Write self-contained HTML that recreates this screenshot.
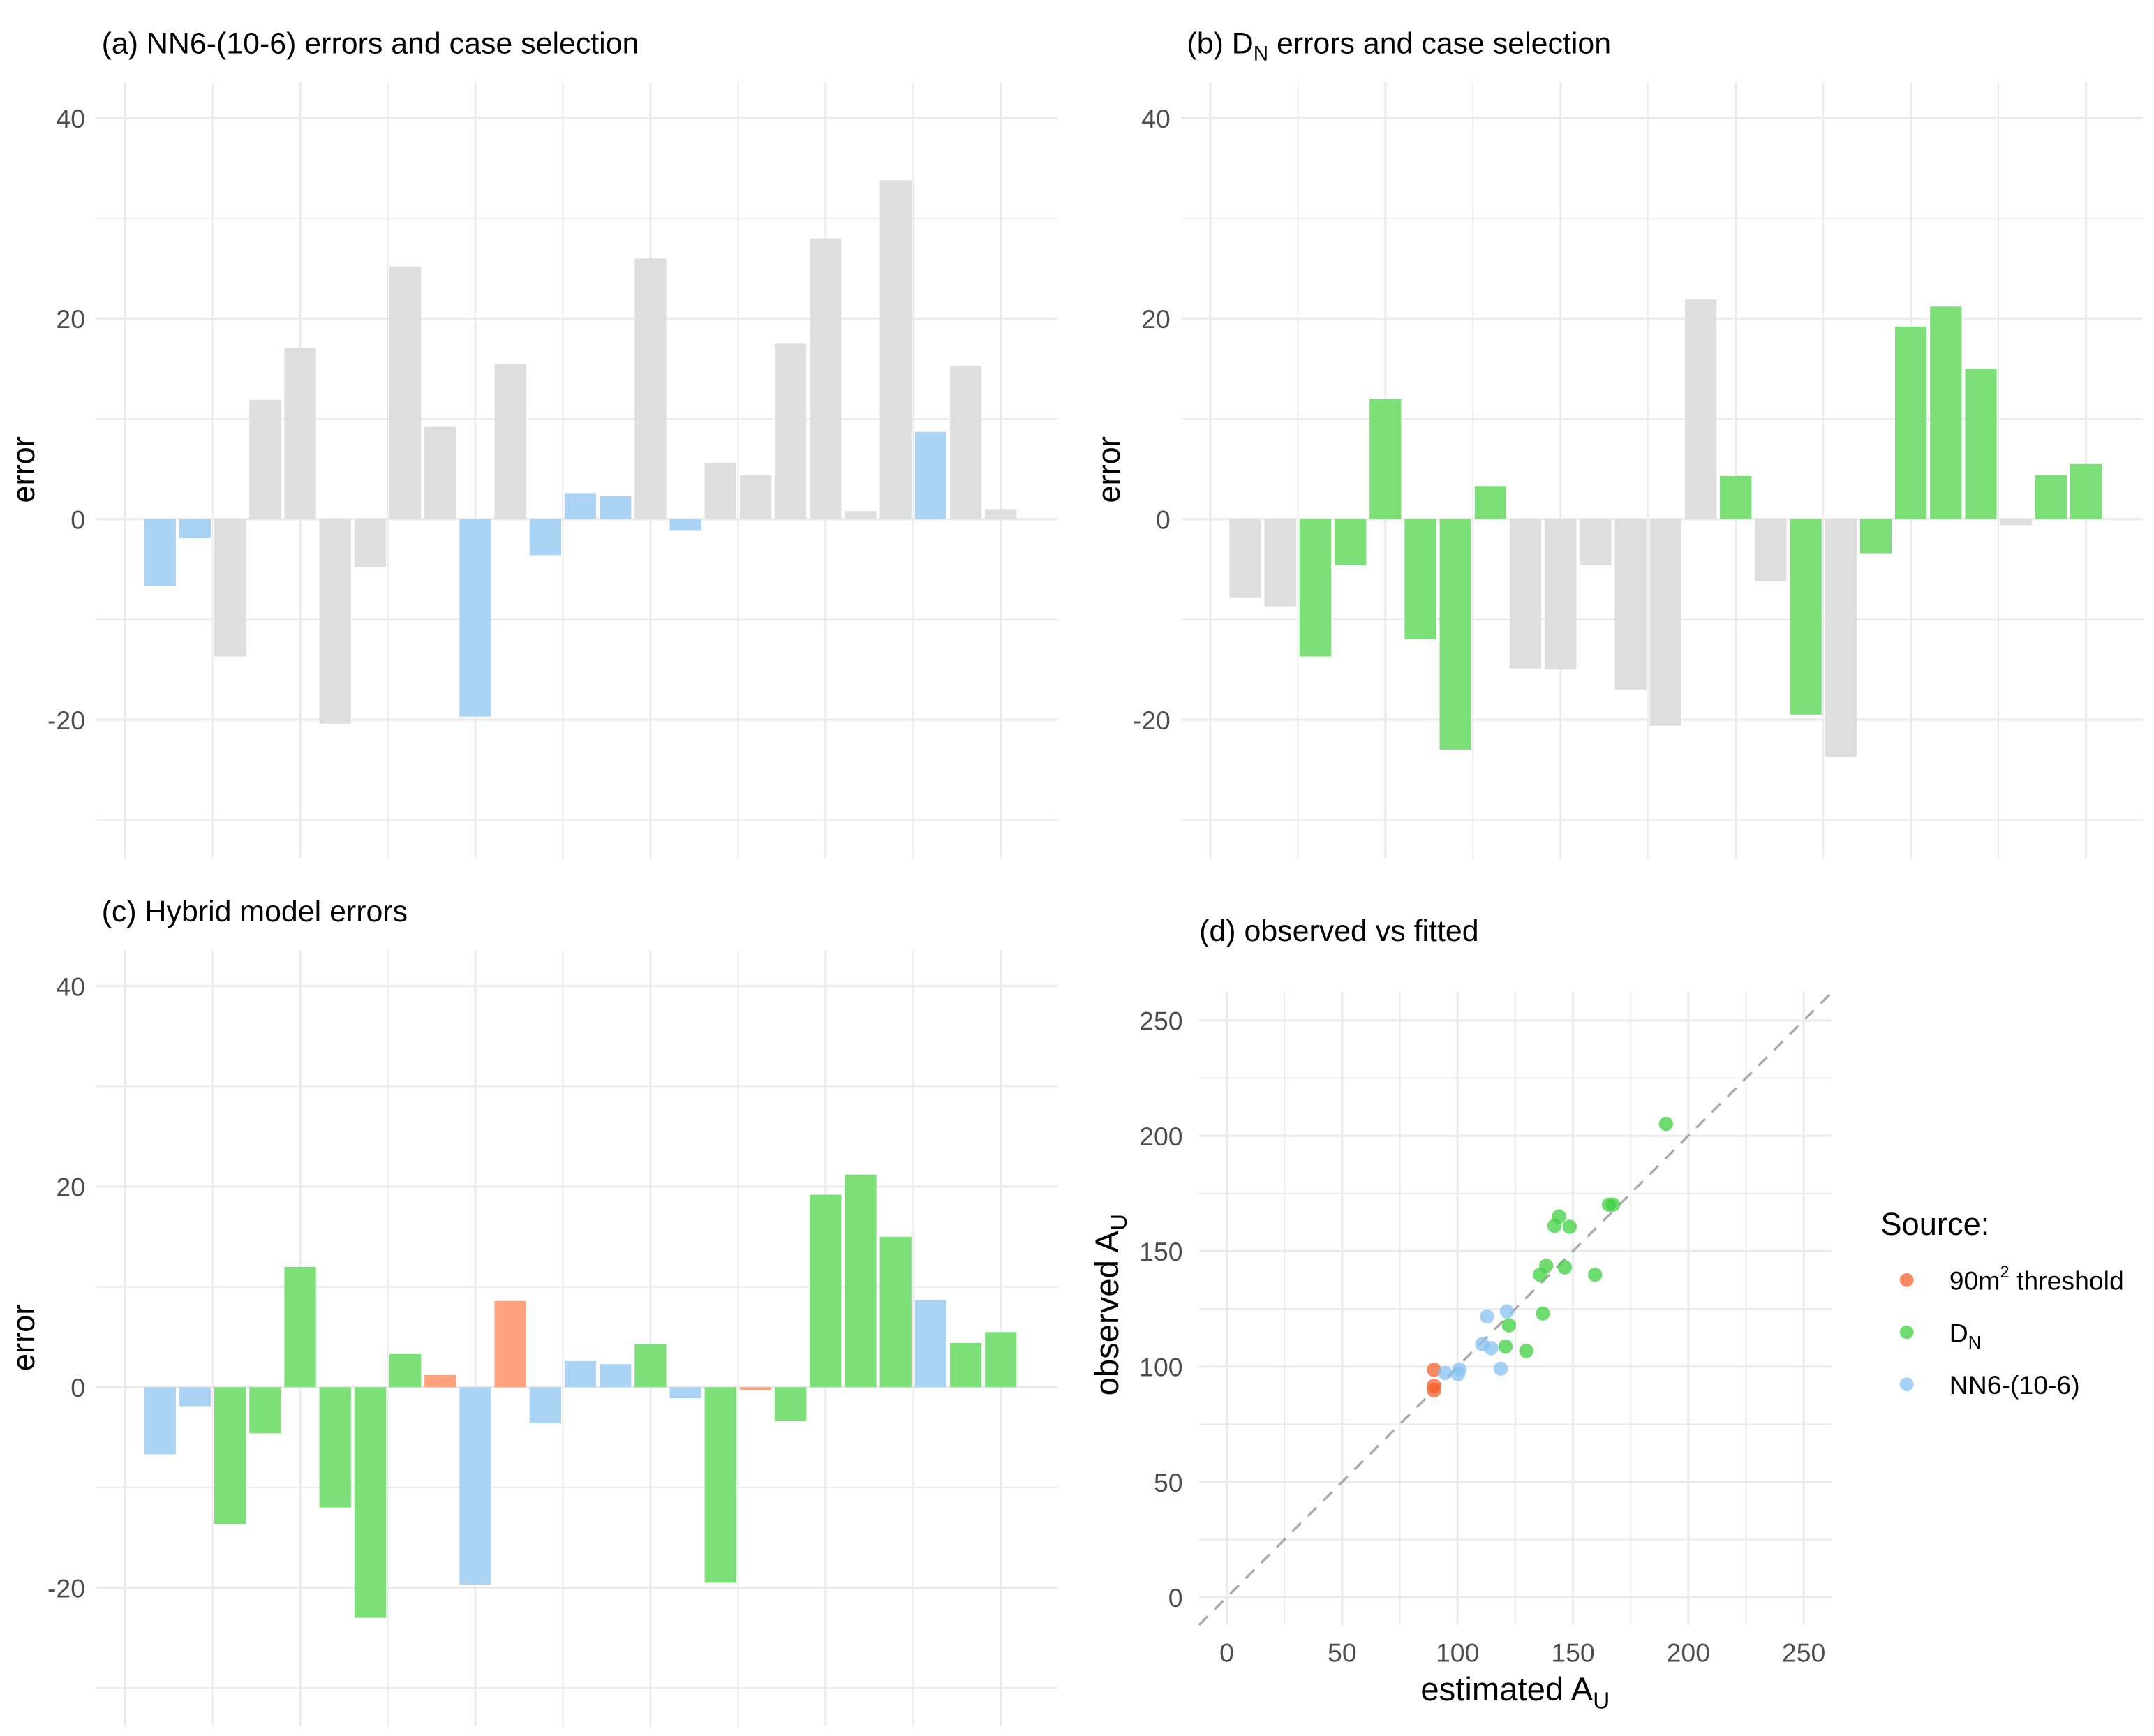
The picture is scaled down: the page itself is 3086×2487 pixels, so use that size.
<!DOCTYPE html>
<html><head><meta charset="utf-8"><style>
html,body{margin:0;padding:0;background:#fff;}
svg{display:block;font-family:"Liberation Sans",sans-serif;}
</style></head><body>
<svg id="chart" width="3086" height="2487" viewBox="0 0 1568 1264" preserveAspectRatio="none" xmlns="http://www.w3.org/2000/svg"></svg>
<script>
const caseIds = [1,2,3,4,5,6,7,8,9,10,11,12,13,14,15,16,17,18,19,20,21,22,23,24,25];
const nnErrors = [-6.7,-1.9,-13.7,11.9,17.1,-20.4,-4.8,25.2,9.2,-19.7,15.5,-3.6,2.6,2.3,26.0,-1.1,5.6,4.4,17.5,28.0,0.8,33.8,8.7,15.3,1.0];
const nnSelected = [1,1,0,0,0,0,0,0,0,1,0,1,1,1,0,1,0,0,0,0,0,0,1,0,0];
const dnErrors = [-7.8,-8.7,-13.7,-4.6,12.0,-12.0,-23.0,3.3,-14.9,-15.0,-4.6,-17.0,-20.6,21.9,4.3,-6.2,-19.5,-23.7,-3.4,19.2,21.2,15.0,-0.6,4.4,5.5];
const dnSelected = [0,0,1,1,1,1,1,1,0,0,0,0,0,0,1,0,1,0,1,1,1,1,0,1,1];
const hybridErrors = [-6.7,-1.9,-13.7,-4.6,12.0,-12.0,-23.0,3.3,1.2,-19.7,8.6,-3.6,2.6,2.3,4.3,-1.1,-19.5,-0.3,-3.4,19.2,21.2,15.0,8.7,4.4,5.5];
const hybridSource = ["nn","nn","dn","dn","dn","dn","dn","dn","th","nn","th","nn","nn","nn","dn","nn","dn","th","dn","dn","dn","dn","nn","dn","dn"];
const barTicks = [-20,0,20,40];
const scatterTicks = [0,50,100,150,200,250];
const thEst = [89.8,89.8,89.8];
const thObs = [98.6,91.6,89.7];
const dnEst = [190.3,165.6,167.4,144,142,148.6,135.7,138.4,146.5,159.6,137,122.3,120.8,129.8];
const dnObs = [205.2,170.2,170.2,165,161,160.6,139.8,143.7,143,139.8,123,117.9,108.7,106.8];
const nnEst = [112.8,121.4,110.7,114.6,118.7,94.6,100.8,100.2];
const nnObs = [121.7,123.9,109.7,108,99.1,97.2,98.8,96.7];

const NS="http://www.w3.org/2000/svg";
const svg=document.getElementById('chart');
function mk(tag,attrs,parent,text){const e=document.createElementNS(NS,tag);for(const k in attrs)e.setAttribute(k,attrs[k]);if(text!==undefined)e.textContent=text;(parent||svg).appendChild(e);return e;}
const COL={gray:'#dedede',nn:'#abd4f4',dn:'#7ddf78',th:'#fca27c',grid:'#ebebeb'};

function barPanel(ox,oy,title,values,colors,name){
  const g=mk('g',{});
  
  
  const x=v=>ox+91+25.5*v, y=v=>oy+378-7.3*v;
  const left=ox+70,right=ox+770,top=oy+60,bot=oy+625;
  for(let v=-30;v<=40;v+=10){const l=mk('line',{x1:left,x2:right,y1:y(v),y2:y(v),stroke:COL.grid,'stroke-width':v%20===0?1.6:1},g);}
  for(let p=0;p<=25;p+=2.5){const l=mk('line',{x1:x(p),x2:x(p),y1:top,y2:bot,stroke:COL.grid,'stroke-width':p%5===0?1.6:1},g);}
  values.forEach((v,i)=>{const c=x(caseIds[i]);const r=mk('rect',{x:c-11.5,width:23,y:Math.min(y(v),y(0)),height:Math.abs(y(v)-y(0)),fill:colors[i]},g);});
  barTicks.forEach(t=>{const tx=mk('text',{x:ox+62,y:y(t)+7,'text-anchor':'end','font-size':19,fill:'#4d4d4d'},g,String(t));});
  const yt=mk('text',{transform:`translate(${ox+25},${oy+342}) rotate(-90)`,'text-anchor':'middle','font-size':23,fill:'#000'},g,'error');
  
  const tt=mk('text',{x:ox+74,y:oy+39,'font-size':21.8,fill:'#000'},g);
  
  tt.innerHTML=title;
}
barPanel(0,0,'(a) NN6-(10-6) errors and case selection',nnErrors,nnSelected.map(s=>s?COL.nn:COL.gray),'panel-a');
barPanel(790,0,'(b) D<tspan font-size="15" dy="5">N</tspan><tspan dy="-5"> errors and case selection</tspan>',dnErrors,dnSelected.map(s=>s?COL.dn:COL.gray),'panel-b');
barPanel(0,632,'(c) Hybrid model errors',hybridErrors,hybridSource.map(s=>COL[s]),'panel-c');

(function(){
  const g=mk('g',{});
  
  
  const x=v=>893+1.68*v, y=v=>1163-1.68*v;
  const L=873,R=1333,T=722,B=1183;
  for(let v=0;v<=250;v+=25){
    const a=mk('line',{x1:L,x2:R,y1:y(v),y2:y(v),stroke:COL.grid,'stroke-width':v%50===0?1.6:1},g);
    const b=mk('line',{x1:x(v),x2:x(v),y1:T,y2:B,stroke:COL.grid,'stroke-width':v%50===0?1.6:1},g);
  }
  const d=mk('line',{x1:x(-12),y1:y(-12),x2:x(262),y2:y(262),stroke:'#a9a9a9','stroke-width':1.7,'stroke-dasharray':'9,7'},g);
  
  scatterTicks.forEach(t=>{
    const a=mk('text',{x:x(t),y:1210,'text-anchor':'middle','font-size':19,fill:'#4d4d4d'},g,String(t));
    const b=mk('text',{x:861,y:y(t)+7,'text-anchor':'end','font-size':19,fill:'#4d4d4d'},g,String(t));
  });
  function pts(es,os,col,nm){es.forEach((e,i)=>{const c=mk('circle',{cx:x(e),cy:y(os[i]),r:5.2,fill:col,'fill-opacity':0.75},g);});}
  pts(thEst,thObs,'#f4602a','point-threshold');
  pts(dnEst,dnObs,'#3fd03f','point-dn');
  pts(nnEst,nnObs,'#85c1f0','point-nn');
  const xt=mk('text',{x:1103,y:1238,'text-anchor':'middle','font-size':24,fill:'#000'},g);
  xt.innerHTML='estimated A<tspan font-size="17" dy="6">U</tspan>';
  
  const yt=mk('text',{transform:'translate(814,950) rotate(-90)','text-anchor':'middle','font-size':24,fill:'#000'},g);
  yt.innerHTML='observed A<tspan font-size="17" dy="6">U</tspan>';
  
  const tt=mk('text',{x:873,y:685,'font-size':21.8,fill:'#000'},g,'(d) observed vs fitted');
  
  const lg=mk('g',{},g);
  
  const lt=mk('text',{x:1369,y:899,'font-size':23,fill:'#000'},lg,'Source:');
  
  const entries=[['#f4602a','90m<tspan font-size="12" dy="-9">2</tspan><tspan dy="9"> threshold</tspan>',932],['#3fd03f','D<tspan font-size="13" dy="5">N</tspan>',970],['#85c1f0','NN6-(10-6)',1008]];
  entries.forEach(e=>{
    const c=mk('circle',{cx:1388,cy:e[2],r:5,fill:e[0],'fill-opacity':0.75},lg);
    const t=mk('text',{x:1419,y:e[2]+7,'font-size':19,fill:'#000'},lg);t.innerHTML=e[1];
  });
})();
</script>
</body></html>
